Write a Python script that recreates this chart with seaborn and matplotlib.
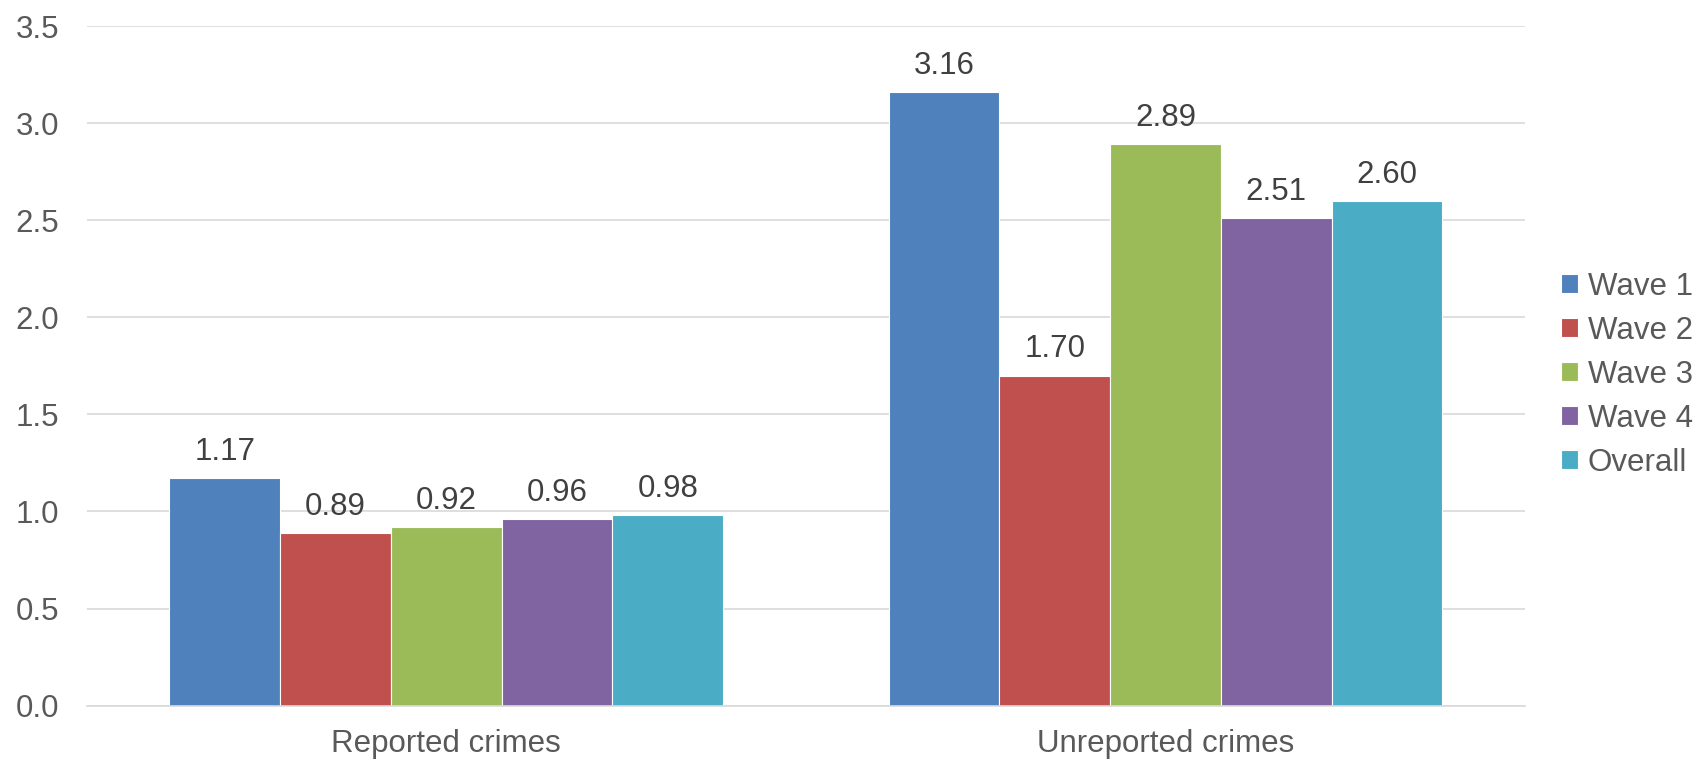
import pandas as pd
import seaborn as sns
import matplotlib.pyplot as plt

categories = ["Reported crimes", "Unreported crimes"]
waves = ["Wave 1", "Wave 2", "Wave 3", "Wave 4", "Overall"]
reported = [1.17, 0.89, 0.92, 0.96, 0.98]
unreported = [3.16, 1.70, 2.89, 2.51, 2.60]
colors = ["#4F81BD", "#C0504D", "#9BBB59", "#8064A2", "#4BACC6"]

df = pd.DataFrame({
    "category": [categories[0]] * 5 + [categories[1]] * 5,
    "wave": waves + waves,
    "value": reported + unreported,
})

sns.set_theme(style="white")
plt.rcParams["font.family"] = ["Liberation Sans", "DejaVu Sans"]

fig = plt.figure(figsize=(17.02, 7.59), dpi=100)
ax = fig.add_axes([0.051, 0.0703, 0.845, 0.8954])

sns.barplot(data=df, x="category", y="value", hue="wave", palette=colors,
            width=0.77, edgecolor="white", linewidth=0.8, ax=ax, saturation=1)

for cont in ax.containers:
    ax.bar_label(cont, fmt="%.2f", padding=8, fontsize=22.5, color="#404040")

ax.set_ylim(0, 3.5)
ax.set_yticks([i * 0.5 for i in range(8)])
ax.set_yticklabels([f"{i * 0.5:.1f}" for i in range(8)])
ax.yaxis.grid(True, color="#D9D9D9", linewidth=1.2)
ax.set_axisbelow(True)
for s in ["top", "right", "left"]:
    ax.spines[s].set_visible(False)
ax.spines["bottom"].set_color("#D9D9D9")
ax.spines["bottom"].set_linewidth(1.2)
ax.tick_params(axis="both", length=0, labelsize=22.5, colors="#595959")
ax.tick_params(axis="x", pad=17)
ax.tick_params(axis="y", pad=20)
ax.set_xlabel("")
ax.set_ylabel("")

ax.legend(loc="center left", bbox_to_anchor=(1.01, 0.487), frameon=False,
          fontsize=22.5, labelcolor="#595959", handlelength=0.55, handleheight=0.55,
          handletextpad=0.3, labelspacing=0.45, borderaxespad=0.3)

fig.savefig("out.png", dpi=100)
